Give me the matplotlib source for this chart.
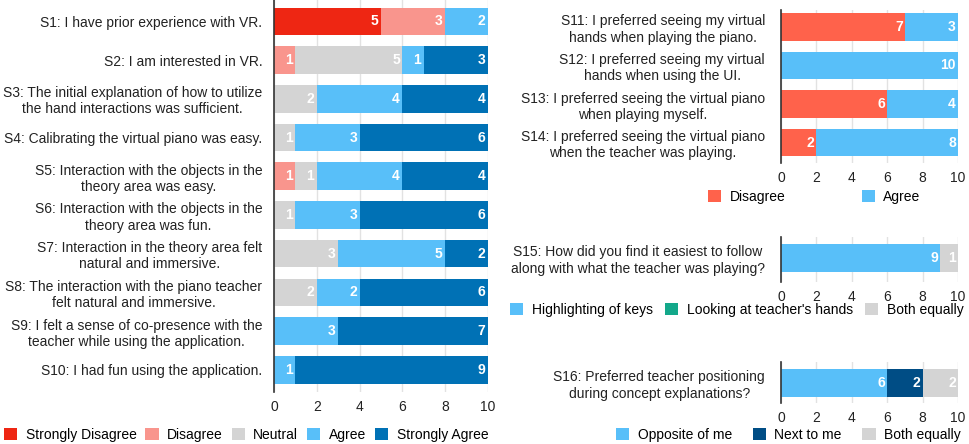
import matplotlib.pyplot as plt
from matplotlib.patches import Patch

plt.rcParams['font.family'] = ['Liberation Sans', 'DejaVu Sans']

# left panel: 5-point Likert
left_labels = [
    "S1: I have prior experience with VR.",
    "S2: I am interested in VR.",
    "S3: The initial explanation of how to utilize\nthe hand interactions was sufficient.",
    "S4: Calibrating the virtual piano was easy.",
    "S5: Interaction with the objects in the\ntheory area was easy.",
    "S6: Interaction with the objects in the\ntheory area was fun.",
    "S7: Interaction in the theory area felt\nnatural and immersive.",
    "S8: The interaction with the piano teacher\nfelt natural and immersive.",
    "S9: I felt a sense of co-presence with the\nteacher while using the application.",
    "S10: I had fun using the application.",
]
likert_names = ["Strongly Disagree", "Disagree", "Neutral", "Agree", "Strongly Agree"]
strongly_disagree = [5, 0, 0, 0, 0, 0, 0, 0, 0, 0]
disagree = [3, 1, 0, 0, 1, 0, 0, 0, 0, 0]
neutral = [0, 5, 2, 1, 1, 1, 3, 2, 0, 0]
agree = [2, 1, 4, 3, 4, 3, 5, 2, 3, 1]
strongly_agree = [0, 3, 4, 6, 4, 6, 2, 6, 7, 9]
likert_colors = ["#ee2613", "#f9958d", "#d4d4d4", "#58bff9", "#0071b5"]

# right top: preference statements
pref_labels = [
    "S11: I preferred seeing my virtual\nhands when playing the piano.",
    "S12: I preferred seeing my virtual\nhands when using the UI.",
    "S13: I preferred seeing the virtual piano\nwhen playing myself.",
    "S14: I preferred seeing the virtual piano\nwhen the teacher was playing.",
]
pref_names = ["Disagree", "Agree"]
pref_disagree = [7, 0, 6, 2]
pref_agree = [3, 10, 4, 8]
pref_colors = ["#ff624b", "#58bff9"]

# S15
s15_label = ["S15: How did you find it easiest to follow\nalong with what the teacher was playing?"]
s15_names = ["Highlighting of keys", "Looking at teacher's hands", "Both equally"]
s15_values = [[9], [0], [1]]
s15_colors = ["#58bff9", "#13a88a", "#d4d4d4"]

# S16
s16_label = ["S16: Preferred teacher positioning\nduring concept explanations?"]
s16_names = ["Opposite of me", "Next to me", "Both equally"]
s16_values = [[6], [2], [2]]
s16_colors = ["#58bff9", "#004d85", "#d4d4d4"]

W, H = 969, 444
FS = 10
fig = plt.figure(figsize=(W / 100, H / 100), dpi=100)


def px_axes(x0, x1, ytop, ybot):
    return fig.add_axes([x0 / W, 1 - ybot / H, (x1 - x0) / W, (ybot - ytop) / H])


def stacked(ax, labels, series, colors, ylim):
    y = list(range(len(labels)))
    left = [0] * len(labels)
    for vals, col in zip(series, colors):
        ax.barh(y, vals, left=left, height=0.71, color=col, zorder=2)
        for i, v in enumerate(vals):
            if v > 0:
                ax.text(left[i] + v - 0.12, i, str(v), ha='right', va='center',
                        color='white', fontweight='bold', fontsize=FS, zorder=3)
        left = [a + b for a, b in zip(left, vals)]
    ax.set_xlim(0, 10)
    ax.set_ylim(*ylim)
    ax.set_xticks([0, 2, 4, 6, 8, 10])
    ax.set_yticks(y)
    ax.set_yticklabels(labels, fontsize=FS, color='#222222')
    for t in ax.get_yticklabels():
        t.set_multialignment('center')
    ax.tick_params(axis='both', length=0, labelsize=FS, colors='#222222')
    ax.tick_params(axis='y', pad=8.5)
    ax.tick_params(axis='x', pad=5.5)
    for s in ['top', 'right', 'bottom']:
        ax.spines[s].set_visible(False)
    ax.spines['left'].set_color('#333333')
    ax.spines['left'].set_linewidth(1.2)
    ax.spines['left'].set_zorder(4)
    ax.grid(axis='x', color='#e2e2e2', linewidth=1, zorder=0)
    ax.set_axisbelow(True)


def legend(names, colors, x, y, spacing):
    handles = [Patch(facecolor=c, edgecolor='none') for c in colors]
    fig.legend(handles, names, loc='center left', bbox_to_anchor=(x / W, 1 - y / H),
               ncol=len(names), frameon=False, fontsize=FS, handlelength=0.95,
               handleheight=1.0, handletextpad=0.6, columnspacing=spacing,
               borderpad=0, borderaxespad=0)


ax1 = px_axes(274, 488, 0, 392)
stacked(ax1, left_labels,
        [strongly_disagree, disagree, neutral, agree, strongly_agree],
        likert_colors, (9.57, -0.55))
legend(likert_names, likert_colors, 4, 435, 0.65)

ax2 = px_axes(781, 958, 10, 163)
stacked(ax2, pref_labels, [pref_disagree, pref_agree], pref_colors, (3.53, -0.44))
ax2.tick_params(axis='y', pad=11.5)
legend(pref_names, pref_colors, 708, 197, 5.5)

ax3 = px_axes(781, 958, 237, 282)
stacked(ax3, s15_label, s15_values, s15_colors, (0.62, -0.54))
ax3.tick_params(axis='y', pad=11.5)
legend(s15_names, s15_colors, 510, 310, 0.9)

ax4 = px_axes(781, 958, 362, 403)
stacked(ax4, s16_label, s16_values, s16_colors, (0.52, -0.54))
ax4.tick_params(axis='y', pad=11.5)
legend(s16_names, s16_colors, 616, 435, 1.5)

fig.savefig("out.png", dpi=100)
